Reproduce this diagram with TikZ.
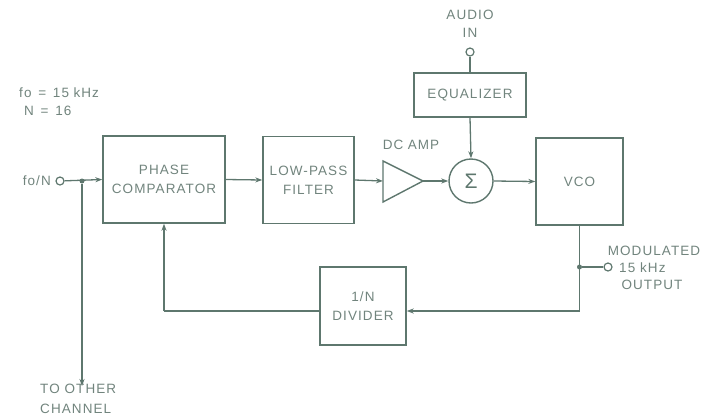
\documentclass[tikz,border=0pt]{standalone}
\usepackage{fontspec}
\setmainfont{Liberation Sans}[LetterSpace=8]
\usetikzlibrary{arrows.meta}
\definecolor{ln}{HTML}{5E776E}
\definecolor{tx}{HTML}{71847D}
\tikzset{
  blk/.style={draw=ln, line width=1.4pt, rectangle, align=center, text=tx, font=\fontsize{13.5}{19}\selectfont},
  conn/.style={draw=ln, line width=1.3pt},
  arr/.style={conn, -{Stealth[length=7pt,width=5pt]}},
  lbl/.style={text=tx, font=\fontsize{13.5}{16}\selectfont, inner sep=0pt},
  term/.style={circle, draw=ln, line width=1.2pt, fill=white, minimum size=8pt, inner sep=0pt},
  jdot/.style={circle, fill=ln, minimum size=5pt, inner sep=0pt}
}
\begin{document}
\begin{tikzpicture}[x=1pt,y=-1pt]
\useasboundingbox (0,0) rectangle (719,418);
% blocks
\node[blk, minimum width=122pt, minimum height=87pt] (pc) at (164,179.5) {PHASE\\COMPARATOR};
\node[blk, minimum width=91pt, minimum height=87pt] (lpf) at (308.5,180) {LOW-PASS\\FILTER};
\node[blk, minimum width=112pt, minimum height=44pt] (eq) at (470,95) {EQUALIZER};
\node[blk, minimum width=87pt, minimum height=87pt] (vco) at (579.5,181.5) {VCO};
\node[blk, minimum width=86pt, minimum height=78pt] (div) at (363,306) {1/N\\DIVIDER};
\node[blk, circle, minimum size=44pt, inner sep=0pt, font=\fontsize{21}{24}\selectfont, text=ln] (sum) at (471,181) {Σ};
% amplifier triangle
\coordinate (ampin) at (383,181);
\coordinate (ampout) at (423,181);
\draw[conn, line width=1.4pt, line join=miter] (383,161) -- (ampout) -- (383,202) -- cycle;
% terminals
\node[term] (fin) at (60,181) {};
\node[term] (ain) at (470,52) {};
\node[term] (out) at (608,267) {};
\node[jdot] (j1) at (82,181) {};
\node[jdot] (j2) at (579.5,267) {};
\coordinate (other) at (82,386);
\coordinate (fbc) at (579.5,311);
\coordinate (fbl) at (164,311);
% connectors
\draw[arr] (fin) -- (pc.west);
\draw[arr] (j1) -- (other);
\draw[arr] (pc.east) -- (lpf.west);
\draw[arr] (lpf.east) -- (ampin);
\draw[arr] (ampout) -- (sum.west);
\draw[arr] (sum.east) -- (vco.west);
\draw[conn] (ain) -- (eq.north);
\draw[arr] (eq.south) -- (sum.north);
\draw[conn] (vco.south) -- (fbc);
\draw[conn] (j2) -- (out);
\draw[arr] (fbc) -- (div.east |- fbc);
\draw[conn] (div.west |- fbl) -- (fbl);
\draw[arr] (fbl) -- (pc.south);
% labels
\node[lbl, anchor=west] (l1) at (19,93) {fo\,\,\,=\,\,\,15\,\,kHz};
\node[lbl, anchor=west] (l2) at (24,111) {N\,\,\,=\,\,\,16};
\node[lbl, anchor=east] (l3) at (51,181) {fo/N};
\node[lbl] (l4) at (411,145) {DC\,\,AMP};
\node[lbl] (l5) at (470,15) {AUDIO};
\node[lbl] (l6) at (470,33) {IN};
\node[lbl] (l7) at (654,251) {MODULATED};
\node[lbl, anchor=west] (l8) at (619,268) {15 kHz};
\node[lbl] (l9) at (652,285) {OUTPUT};
\node[lbl, anchor=west] (l10) at (40,389) {TO OTHER};
\node[lbl, anchor=west] (l11) at (40,409) {CHANNEL};
\end{tikzpicture}
\end{document}
